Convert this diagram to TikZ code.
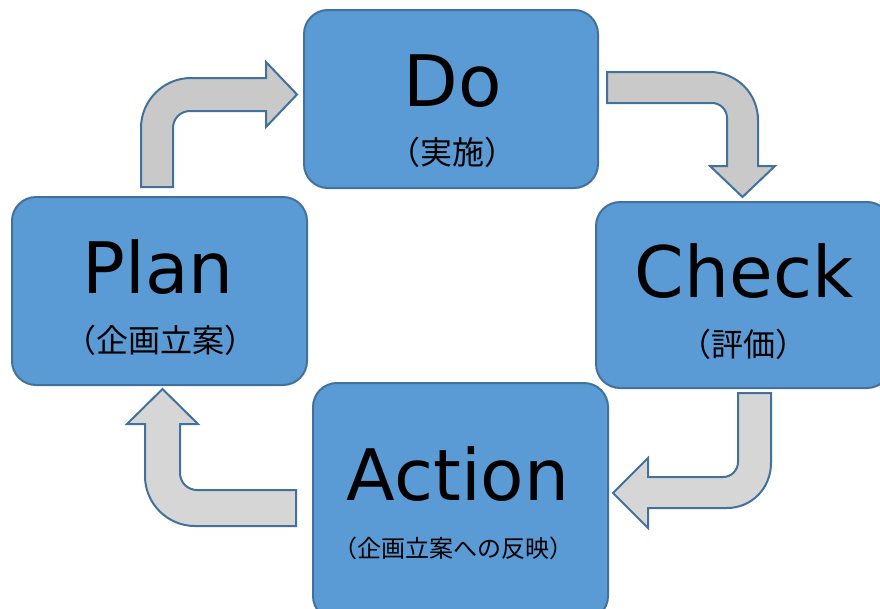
\documentclass[tikz,border=0pt]{standalone}
\usepackage{fontspec}
\setmainfont{DejaVu Sans}
\newfontfamily\jp{Noto Sans CJK JP}
\definecolor{boxfill}{HTML}{5B9BD5}
\definecolor{boxline}{HTML}{41719C}
\definecolor{arrfillA}{HTML}{C9C9C9}
\definecolor{arrfillB}{HTML}{D6D6D6}
\tikzset{
  pbox/.style={draw=boxline, fill=boxfill, line width=2pt, rounded corners=24pt, inner sep=0pt},
  big/.style={font=\fontsize{71}{80}\selectfont, text=black, anchor=base, inner sep=0pt},
  sub/.style={font=\jp\fontsize{32}{36}\selectfont, text=black, anchor=center, inner sep=0pt},
  subs/.style={font=\jp\fontsize{24}{28}\selectfont, text=black, anchor=center, inner sep=0pt},
  barrowA/.style={draw=boxline, fill=arrfillA, line width=2pt, line join=miter},
  barrowB/.style={draw=boxline, fill=arrfillB, line width=2pt, line join=miter},
}
\begin{document}
\begin{tikzpicture}[x=1pt, y=-1pt]
\useasboundingbox (0,0) rectangle (880,608);
\clip (0,0) rectangle (880,608);
% boxes
\node[pbox, minimum width=294pt, minimum height=178pt] (do) at (451,99) {};
\node[pbox, minimum width=295pt, minimum height=186pt] (check) at (743.5,295) {};
\node[pbox, minimum width=295pt, minimum height=188pt] (plan) at (159.5,291) {};
\node[pbox, minimum width=295pt, minimum height=237pt] (action) at (460.5,501.5) {};
% texts
\node[big] (dot) at (453,106) {Do};
\node[sub] (dos) at (452,152) {（実施）};
\node[big] (checkt) at (744,297) {Check};
\node[sub] (checks) at (743,344) {（評価）};
\node[big] (plant) at (158,293) {Plan};
\node[sub] (plans) at (160,340) {（企画立案）};
\node[big] (actiont) at (458,500) {Action};
\node[subs] (actions) at (453,548) {（企画立案への反映）};
% bent arrows
% Plan -> Do
\draw[barrowA] (141,187) -- (141,128) .. controls (141,100.4) and (163.4,78) .. (191,78)
  -- (266,78) -- (266,62) -- (297,94.5) -- (266,127) -- (266,111) -- (190,111)
  .. controls (180.6,111) and (173,118.6) .. (173,128) -- (173,187) -- cycle;
% Do -> Check
\draw[barrowA] (607,72) -- (710,72) .. controls (736.5,72) and (758,93.5) .. (758,120)
  -- (758,166) -- (775,166) -- (742.5,197) -- (710,166) -- (727,166) -- (727,118)
  .. controls (727,109.7) and (720.3,103) .. (712,103) -- (607,103) -- cycle;
% Check -> Action
\draw[barrowB] (738,393) -- (771,393) -- (771,463) .. controls (771,487.9) and (751.9,508) .. (727,508)
  -- (648,508) -- (648,528) -- (613,493) -- (648,458) -- (648,477) -- (723,477)
  .. controls (731.3,477) and (738,470.3) .. (738,462) -- cycle;
% Action -> Plan
\draw[barrowB] (296,526) -- (195,526) .. controls (167.4,526) and (145,503.6) .. (145,476)
  -- (145,424) -- (127,424) -- (162.5,389) -- (198,424) -- (180,424) -- (180,473)
  .. controls (180,482.4) and (187.6,490) .. (197,490) -- (296,490) -- cycle;
\end{tikzpicture}
\end{document}
